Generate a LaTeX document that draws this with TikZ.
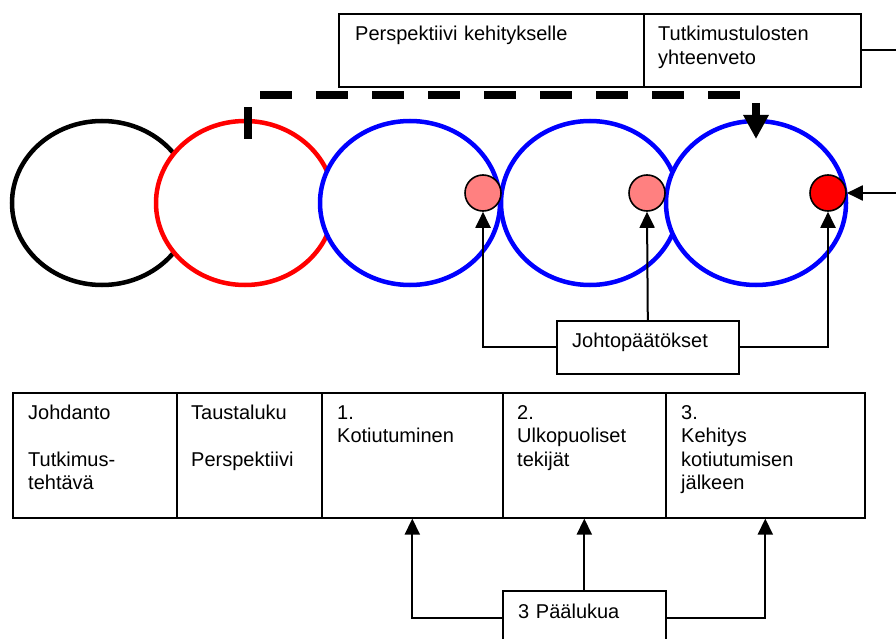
\documentclass[tikz,border=0pt]{standalone}
\usepackage{fontspec}
\setmainfont{Liberation Sans}
\usetikzlibrary{arrows.meta,positioning}
\definecolor{pinkdot}{HTML}{FF8080}
\tikzset{
  box/.style={draw,line width=1.6pt,inner sep=0pt,anchor=north west},
  txt/.style={anchor=base west,inner sep=0pt,align=left,text width=280pt,font=\fontsize{20}{23.5}\selectfont},
  ring/.style={line width=4.5pt,fill=white},
  dot/.style={circle,draw,line width=1.6pt,minimum size=36pt,inner sep=0pt},
  conn/.style={line width=2pt,-{Triangle[width=15pt,length=16pt]}},
}
\begin{document}
\begin{tikzpicture}[x=1pt,y=-1pt]
\clip(0,0)rectangle(896,639);
\fill[white](0,0)rectangle(896,639);
% top boxes
\node[box,minimum width=305pt,minimum height=73pt](tb1)at(338,13){};
\node[box,minimum width=217pt,minimum height=73pt](tb2)at(643,13){};
\node[txt](ttb1)at(355,41){Perspektiivi kehitykselle};
\node[txt](ttb2)at(658,41){Tutkimustulosten\\yhteenveto};
\coordinate(rout)at(896,50);
\coordinate(rin)at(896,193);
% rings
\draw[ring,draw=black](102,203)ellipse[x radius=90pt,y radius=82pt];
\draw[ring,draw=red](245,203)ellipse[x radius=89pt,y radius=82pt];
\draw[ring,draw=blue](410,203)ellipse[x radius=90pt,y radius=82pt];
\draw[ring,draw=blue](590,203)ellipse[x radius=89pt,y radius=82pt];
\draw[ring,draw=blue](756,203)ellipse[x radius=90pt,y radius=82pt];
\node[dot,fill=pinkdot](c1)at(483,193){};
\node[dot,fill=pinkdot](c2)at(647,193){};
\node[dot,fill=red](c3)at(828,193){};
\coordinate(dS)at(248,139);
\coordinate(dE)at(756,139);
\draw[line width=7.5pt,dash pattern=on 32pt off 24pt,-{Triangle[width=24pt,length=24pt]}](dS)--(dS|-0,95)--(dE|-0,95)--(dE);
\draw[line width=2pt](tb2.east)--(tb2.east-|rout);
\draw[conn](rin)--(c3.east);
% conclusions
\node[box,minimum width=182pt,minimum height=53pt](jp)at(556,320){};
\node[txt](tjp)at(572,347){Johtopäätökset};
\draw[conn](jp.north)--(c2.south);
\draw[conn](jp.west)-|(c1.south);
\draw[conn](jp.east)-|(c3.south);
% chapters
\node[box,minimum width=164pt,minimum height=125pt](b1)at(12,392){};
\node[box,minimum width=145pt,minimum height=125pt](b2)at(176,392){};
\node[box,minimum width=181pt,minimum height=125pt](b3)at(321,392){};
\node[box,minimum width=163pt,minimum height=125pt](b4)at(502,392){};
\node[box,minimum width=199pt,minimum height=125pt](b5)at(665,392){};
\node[txt](tb1)at(28,419){Johdanto\\[23.5pt]Tutkimus-\\tehtävä};
\node[txt](tb2)at(191,419){Taustaluku\\[23.5pt]Perspektiivi};
\node[txt](tb3)at(337,419){1.\\Kotiutuminen};
\node[txt](tb4)at(517,419){2.\\Ulkopuoliset\\tekijät};
\node[txt](tb5)at(681,419){3.\\Kehitys\\kotiutumisen\\jälkeen};
\node[box,minimum width=163pt,minimum height=54pt](pl)at(502,590){};
\node[txt](tpl)at(518,618){3 Päälukua};
\draw[conn](pl.north)--(b4.south);
\draw[conn](pl.west)-|(b3.south);
\draw[conn](pl.east)-|(b5.south);
\end{tikzpicture}
\end{document}
